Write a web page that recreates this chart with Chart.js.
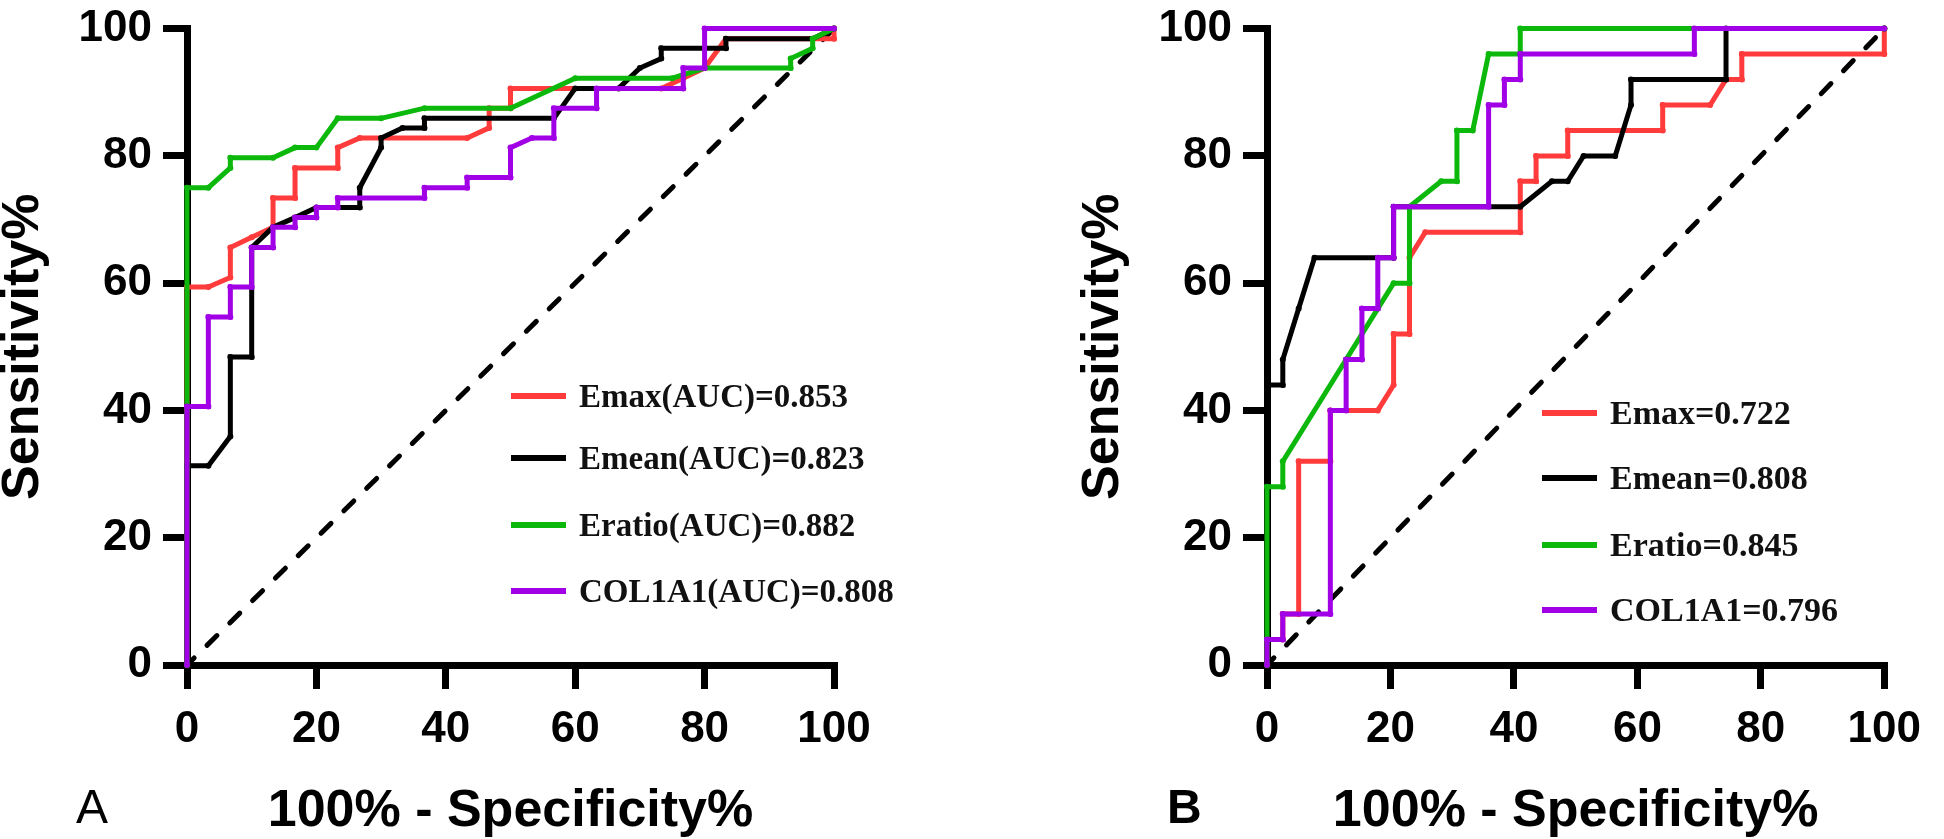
<!DOCTYPE html>
<html lang="en">
<head>
    <meta charset="UTF-8">
    <title>ROC curves</title>
    <script src="https://cdn.jsdelivr.net/npm/chart.js"></script>
<style>
    body{
        margin: 0;
        background: #fff;
        width: 1944px;
        height: 839px;
        overflow: hidden;
        position: relative;
    }
    .panel{
        position: absolute;
        top: 0;
        height: 839px;
    }
    #panelA{ left: 0; width: 1080px; }
    #panelB{ left: 1080px; width: 864px; }
    .tag{
        position: absolute;
        font-family: "Liberation Sans", Arial, sans-serif;
        font-size: 48px;
        line-height: 1;
        color: #000;
    }
    #tagA{ left: 76px; top: 783px; }
    #tagB{ left: 1167px; top: 783px; font-weight: bold; }
</style>
</head>
<body>
    <div class="panel" id="panelA"><canvas id="rocA"></canvas></div>
    <div class="panel" id="panelB"><canvas id="rocB"></canvas></div>
    <div class="tag" id="tagA">A</div>
    <div class="tag" id="tagB">B</div>

<script>
    var tickValues = [0, 20, 40, 60, 80, 100];
    var diagX = [0, 100];
    var diagY = [0, 100];

    // panel A
    var aLabels = ['Emax(AUC)=0.853', 'Emean(AUC)=0.823', 'Eratio(AUC)=0.882', 'COL1A1(AUC)=0.808'];
    var aEmaxX = [0, 0, 3.3, 6.7, 6.7, 10, 13.3, 13.3, 16.7, 16.7, 23.3, 23.3, 26.7, 43.3, 46.7, 46.7, 50, 50, 73.3, 76.7, 80, 83.3, 100, 100];
    var aEmaxY = [0, 59.4, 59.4, 60.9, 65.6, 67.2, 68.8, 73.4, 73.4, 78.1, 78.1, 81.3, 82.8, 82.8, 84.4, 87.5, 87.5, 90.6, 90.6, 92.2, 93.8, 98.4, 98.4, 100];
    var aEmeanX = [0, 0, 3.3, 6.7, 6.7, 10, 10, 13.3, 16.7, 20, 26.7, 26.7, 30, 30, 33.3, 36.7, 36.7, 56.7, 60, 66.7, 70, 73.3, 73.3, 83.3, 83.3, 96.7, 100];
    var aEmeanY = [0, 31.3, 31.3, 35.9, 48.4, 48.4, 65.6, 68.8, 70.3, 71.9, 71.9, 75, 81.3, 82.8, 84.4, 84.4, 85.9, 85.9, 90.6, 90.6, 93.8, 95.3, 96.9, 96.9, 98.4, 98.4, 100];
    var aEratioX = [0, 0, 3.3, 6.7, 6.7, 13.3, 16.7, 20, 23.3, 30, 36.7, 50, 60, 75, 80, 93.3, 93.3, 96.7, 96.7, 100];
    var aEratioY = [0, 75, 75, 78.1, 79.7, 79.7, 81.3, 81.3, 85.9, 85.9, 87.5, 87.5, 92.2, 92.2, 93.8, 93.8, 95.3, 96.9, 98.4, 100];
    var aColX = [0, 0, 3.3, 3.3, 6.7, 6.7, 10, 10, 13.3, 13.3, 16.7, 16.7, 20, 20, 23.3, 23.3, 36.7, 36.7, 43.3, 43.3, 50, 50, 53.3, 56.7, 56.7, 63.3, 63.3, 76.7, 76.7, 80, 80, 100];
    var aColY = [0, 40.6, 40.6, 54.7, 54.7, 59.4, 59.4, 65.6, 65.6, 68.8, 68.8, 70.3, 70.3, 71.9, 71.9, 73.4, 73.4, 75, 75, 76.6, 76.6, 81.3, 82.8, 82.8, 87.5, 87.5, 90.6, 90.6, 93.8, 93.8, 100, 100];

    // panel B
    var bLabels = ['Emax=0.722', 'Emean=0.808', 'Eratio=0.845', 'COL1A1=0.796'];
    var bEmaxX = [0, 0, 2.56, 2.56, 5.13, 5.13, 10.26, 10.26, 17.95, 20.51, 20.51, 23.08, 23.08, 25.64, 41.03, 41.03, 43.59, 43.59, 48.72, 48.72, 64.1, 64.1, 71.79, 74.36, 76.92, 76.92, 100, 100];
    var bEmaxY = [0, 4, 4, 8, 8, 32, 32, 40, 40, 44, 52, 52, 64, 68, 68, 76, 76, 80, 80, 84, 84, 88, 88, 92, 92, 96, 96, 100];
    var bEmeanX = [0, 0, 2.56, 2.56, 5.13, 7.69, 20.51, 20.51, 41.03, 46.15, 48.72, 51.28, 56.41, 58.97, 58.97, 74.36, 74.36, 100];
    var bEmeanY = [0, 44, 44, 48, 56, 64, 64, 72, 72, 76, 76, 80, 80, 88, 92, 92, 100, 100];
    var bEratioX = [0, 0, 2.56, 2.56, 12.82, 17.95, 20.51, 23.08, 23.08, 28.21, 30.77, 30.77, 33.33, 35.9, 41.03, 41.03, 100];
    var bEratioY = [0, 28, 28, 32, 48, 56, 60, 60, 72, 76, 76, 84, 84, 96, 96, 100, 100];
    var bColX = [0, 0, 2.56, 2.56, 10.26, 10.26, 12.82, 12.82, 15.38, 15.38, 17.95, 17.95, 20.51, 20.51, 35.9, 35.9, 38.46, 38.46, 41.03, 41.03, 69.23, 69.23, 100];
    var bColY = [0, 4, 4, 8, 8, 40, 40, 48, 48, 56, 56, 64, 64, 72, 72, 88, 88, 92, 92, 96, 96, 100, 100];

    var lineColors = ['#ff3b3b', '#000000', '#0cb80c', '#a100e6'];
    var sansFont = '"Liberation Sans", Arial, sans-serif';

    function toPoints(xs, ys) {
        return xs.map(function (x, i) { return { x: x, y: ys[i] }; });
    }

    // legend drawn inside the plot, like the graphpad export
    var rocLegend = {
        id: 'rocLegend',
        afterDatasetsDraw: function (chart, args, opts) {
            var ctx = chart.ctx;
            ctx.save();
            ctx.font = opts.font;
            ctx.textBaseline = 'middle';
            ctx.textAlign = 'left';
            chart.data.datasets.forEach(function (ds) {
                if (ds.legendRow === undefined) return;
                var y = opts.rows[ds.legendRow];
                ctx.strokeStyle = ds.borderColor;
                ctx.lineWidth = 6;
                ctx.beginPath();
                ctx.moveTo(opts.x1, y);
                ctx.lineTo(opts.x2, y);
                ctx.stroke();
                ctx.fillStyle = '#111';
                ctx.fillText(ds.label, opts.textX, y + 2);
            });
            ctx.restore();
        }
    };

    function axisOptions(titleText, isX) {
        return {
            type: 'linear',
            min: 0,
            max: 100,
            afterBuildTicks: function (scale) {
                scale.ticks = tickValues.map(function (v) { return { value: v }; });
            },
            afterFit: function (scale) {
                if (isX) scale.height = 174;
                else scale.width = 187;
            },
            border: { display: true, color: '#000', width: 7 },
            grid: { drawOnChartArea: false, drawTicks: true, tickLength: 24, lineWidth: 7, color: '#000' },
            ticks: {
                color: '#000',
                padding: isX ? 23 : 11,
                maxRotation: 0,
                font: { family: sansFont, size: 44, weight: 'bold', lineHeight: 0.8 }
            },
            title: {
                display: true,
                text: titleText,
                color: '#000',
                padding: isX ? { top: 0, bottom: 1 } : { top: -2, bottom: 0 },
                font: { family: sansFont, size: 52, weight: 'bold', lineHeight: 1 }
            }
        };
    }

    function makeRoc(canvasId, labels, xsList, ysList, rightPad, legendOpts) {
        var datasets = [{
            label: 'diagonal',
            data: toPoints(diagX, diagY),
            borderColor: '#000',
            borderWidth: 5,
            borderDash: [14, 18],
            borderDashOffset: 4,
            borderCapStyle: 'round',
            pointRadius: 0,
            showLine: true,
            clip: false,
            order: 5
        }];
        labels.forEach(function (lab, i) {
            datasets.push({
                label: lab,
                legendRow: i,
                data: toPoints(xsList[i], ysList[i]),
                borderColor: lineColors[i],
                backgroundColor: lineColors[i],
                borderWidth: 5,
                pointRadius: 3,
                pointBorderWidth: 0,
                pointBackgroundColor: lineColors[i],
                showLine: true,
                tension: 0,
                clip: false,
                order: 4 - i
            });
        });
        return new Chart(document.getElementById(canvasId), {
            type: 'scatter',
            data: { datasets: datasets },
            options: {
                responsive: true,
                maintainAspectRatio: false,
                animation: false,
                layout: { padding: { top: 20, left: 0, right: rightPad, bottom: 0 } },
                scales: {
                    x: axisOptions('100% - Specificity%', true),
                    y: axisOptions('Sensitivity%', false)
                },
                plugins: {
                    legend: { display: false },
                    tooltip: { enabled: false },
                    rocLegend: legendOpts
                }
            },
            plugins: [rocLegend]
        });
    }

    makeRoc('rocA', aLabels,
        [aEmaxX, aEmeanX, aEratioX, aColX],
        [aEmaxY, aEmeanY, aEratioY, aColY],
        246,
        { x1: 511, x2: 566, textX: 579, rows: [396, 458, 525, 591], font: 'bold 33px "Liberation Serif", "Times New Roman", serif' });

    makeRoc('rocB', bLabels,
        [bEmaxX, bEmeanX, bEratioX, bColX],
        [bEmaxY, bEmeanY, bEratioY, bColY],
        38,
        { x1: 462, x2: 517, textX: 530, rows: [413, 478, 545, 610], font: 'bold 34px "Liberation Serif", "Times New Roman", serif' });
</script>
</body>
</html>
